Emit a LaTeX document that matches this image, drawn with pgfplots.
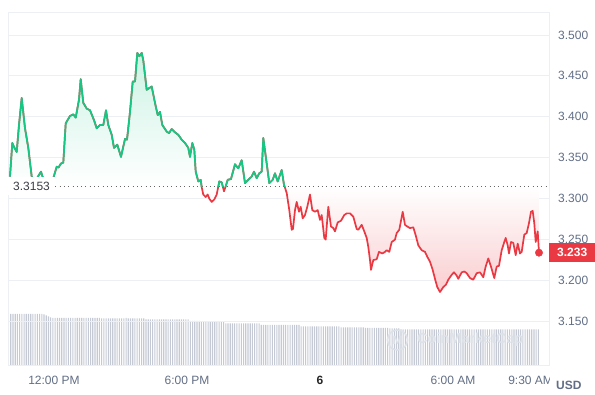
\documentclass[border=0pt]{standalone}
\usepackage{pgfplots}
\pgfplotsset{compat=1.18}
\usepackage{pgfplotstable}
\usepackage{fontspec}
\setmainfont{Liberation Sans}
\definecolor{cmcgreen}{RGB}{22,199,132}
\definecolor{cmcred}{RGB}{234,57,67}
\definecolor{gridc}{RGB}{236,239,243}
\definecolor{tickc}{RGB}{97,110,133}
\definecolor{labc}{RGB}{60,62,70}
\definecolor{barc}{RGB}{196,201,212}
\definecolor{wmc}{RGB}{222,226,233}
\colorlet{gfill}{cmcgreen!22!white}
\colorlet{rfill}{cmcred!25!white}
\pgfdeclareverticalshading{pricefade}{100bp}{color(0bp)=(rfill); color(25bp)=(rfill); color(47.1bp)=(white); color(75bp)=(gfill); color(100bp)=(gfill)}

\pgfplotstableread[row sep=\\]{
h v\\
-1.985 3.327\\ -1.881 3.368\\ -1.782 3.362\\ -1.682 3.357\\ -1.579 3.390\\ -1.457 3.423\\ -1.308 3.386\\ -1.159 3.362\\
-1.006 3.327\\ -0.902 3.320\\ -0.767 3.325\\ -0.586 3.333\\ -0.519 3.327\\ -0.406 3.320\\ -0.226 3.318\\ -0.032 3.325\\
0.122 3.339\\ 0.203 3.338\\ 0.316 3.343\\ 0.419 3.344\\ 0.528 3.392\\ 0.722 3.401\\ 0.871 3.403\\ 0.979 3.399\\
1.128 3.421\\ 1.204 3.446\\ 1.322 3.417\\ 1.475 3.410\\ 1.624 3.408\\ 1.804 3.396\\ 1.926 3.386\\ 2.075 3.390\\
2.224 3.390\\ 2.346 3.408\\ 2.449 3.390\\ 2.603 3.378\\ 2.706 3.362\\ 2.855 3.366\\ 3.022 3.351\\ 3.203 3.373\\
3.293 3.372\\ 3.428 3.406\\ 3.550 3.443\\ 3.654 3.443\\ 3.757 3.478\\ 3.848 3.474\\ 3.956 3.478\\ 4.028 3.469\\
4.181 3.433\\ 4.407 3.437\\ 4.556 3.417\\ 4.678 3.402\\ 4.781 3.406\\ 4.885 3.390\\ 5.083 3.382\\ 5.187 3.380\\
5.309 3.385\\ 5.458 3.381\\ 5.607 3.378\\ 5.760 3.372\\ 5.909 3.368\\ 6.058 3.362\\ 6.134 3.351\\ 6.238 3.368\\
6.328 3.360\\ 6.392 3.333\\ 6.509 3.321\\ 6.617 3.323\\ 6.662 3.314\\ 6.734 3.305\\ 6.843 3.302\\ 6.933 3.305\\
7.005 3.300\\ 7.113 3.296\\ 7.230 3.299\\ 7.339 3.305\\ 7.456 3.321\\ 7.564 3.320\\ 7.668 3.309\\ 7.745 3.315\\
7.835 3.323\\ 7.984 3.324\\ 8.164 3.342\\ 8.313 3.337\\ 8.466 3.347\\ 8.615 3.319\\ 8.764 3.323\\ 8.917 3.327\\
9.021 3.333\\ 9.143 3.325\\ 9.260 3.331\\ 9.368 3.333\\ 9.441 3.374\\ 9.594 3.343\\ 9.711 3.319\\ 9.865 3.323\\
9.968 3.331\\ 10.090 3.321\\ 10.271 3.335\\ 10.374 3.317\\ 10.496 3.307\\ 10.613 3.286\\ 10.722 3.262\\ 10.780 3.263\\
10.871 3.286\\ 10.947 3.296\\ 11.051 3.284\\ 11.128 3.290\\ 11.218 3.276\\ 11.322 3.280\\ 11.425 3.290\\ 11.547 3.305\\
11.651 3.286\\ 11.773 3.284\\ 11.894 3.286\\ 11.998 3.274\\ 12.075 3.280\\ 12.192 3.252\\ 12.255 3.250\\ 12.373 3.290\\
12.494 3.266\\ 12.598 3.264\\ 12.675 3.260\\ 12.797 3.271\\ 12.945 3.273\\ 13.094 3.280\\ 13.203 3.282\\ 13.351 3.282\\
13.500 3.278\\ 13.654 3.263\\ 13.726 3.262\\ 13.879 3.268\\ 13.996 3.260\\ 14.105 3.252\\ 14.177 3.241\\ 14.253 3.225\\
14.299 3.213\\ 14.402 3.225\\ 14.556 3.226\\ 14.659 3.235\\ 14.808 3.233\\ 14.930 3.235\\ 15.007 3.237\\ 15.124 3.235\\
15.232 3.247\\ 15.381 3.250\\ 15.458 3.258\\ 15.575 3.262\\ 15.729 3.284\\ 15.832 3.268\\ 15.936 3.266\\ 16.058 3.264\\
16.207 3.265\\ 16.328 3.254\\ 16.432 3.243\\ 16.586 3.237\\ 16.734 3.235\\ 16.838 3.229\\ 16.960 3.223\\ 17.082 3.213\\
17.185 3.202\\ 17.289 3.192\\ 17.411 3.186\\ 17.560 3.192\\ 17.682 3.195\\ 17.785 3.201\\ 17.939 3.207\\ 18.042 3.210\\
18.164 3.206\\ 18.236 3.202\\ 18.390 3.210\\ 18.507 3.211\\ 18.615 3.209\\ 18.764 3.203\\ 18.913 3.201\\ 19.066 3.209\\
19.215 3.210\\ 19.364 3.204\\ 19.472 3.217\\ 19.590 3.227\\ 19.711 3.217\\ 19.860 3.203\\ 19.968 3.217\\ 20.072 3.218\\
20.194 3.237\\ 20.311 3.247\\ 20.374 3.252\\ 20.465 3.243\\ 20.523 3.233\\ 20.613 3.247\\ 20.717 3.246\\ 20.826 3.231\\
20.916 3.245\\ 21.019 3.233\\ 21.096 3.235\\ 21.213 3.256\\ 21.322 3.258\\ 21.425 3.270\\ 21.516 3.284\\ 21.592 3.285\\
21.664 3.270\\ 21.728 3.247\\ 21.818 3.260\\ 21.876 3.234\\
}\pricedata

\pgfplotstableread[row sep=\\]{
h vol\\
-1.95 51\\ -1.85 51\\ -1.75 51\\ -1.65 51\\ -1.55 51\\ -1.45 51\\ -1.35 51\\ -1.25 51\\ -1.15 51\\ -1.05 51\\
-0.95 51\\ -0.85 51\\ -0.75 51\\ -0.65 51\\ -0.55 51\\ -0.45 50.5\\ -0.35 49.5\\ -0.25 48.5\\ -0.15 47.5\\
-0.05 47\\ 0.05 47\\ 0.15 47\\ 0.25 47\\ 0.35 47\\ 0.45 47\\ 0.55 47\\ 0.65 47\\ 0.75 47\\ 0.85 47\\ 0.95 47\\
1.05 47\\ 1.15 47\\ 1.25 47\\ 1.35 47\\ 1.45 47\\ 1.55 47\\ 1.65 47\\ 1.75 47\\ 1.85 47\\ 1.95 47\\ 2.05 47\\
2.15 46.5\\ 2.25 46.5\\ 2.35 46.5\\ 2.45 46.5\\ 2.55 46.5\\ 2.65 46.5\\ 2.75 46.5\\ 2.85 46.5\\ 2.95 46.5\\ 3.05 46.5\\ 3.15 46.5\\
3.25 47\\ 3.35 46.5\\ 3.45 46.5\\ 3.55 46.5\\ 3.65 46.5\\ 3.75 46.5\\ 3.85 46.5\\ 3.95 46.5\\ 4.05 46.5\\
4.15 45.5\\ 4.25 45.5\\ 4.35 45.5\\ 4.45 45.5\\ 4.55 45.5\\ 4.65 45.5\\ 4.75 45.5\\ 4.85 45.5\\ 4.95 45.5\\ 5.05 45.5\\
5.15 45.5\\ 5.25 45.5\\ 5.35 45.5\\ 5.45 45.5\\ 5.55 45.5\\ 5.65 45.5\\ 5.75 45.5\\ 5.85 45.5\\ 5.95 45.5\\ 6.05 45.5\\
6.15 44\\ 6.25 44\\ 6.35 44\\ 6.45 44\\ 6.55 44\\
6.65 43\\ 6.75 43\\ 6.85 43\\ 6.95 43\\ 7.05 43\\ 7.15 43\\ 7.25 43\\ 7.35 43\\ 7.45 43\\ 7.55 43\\ 7.65 43\\
7.75 41.5\\ 7.85 41.5\\ 7.95 41.5\\ 8.05 41.5\\ 8.15 41.5\\ 8.25 41.5\\ 8.35 41.5\\ 8.45 41.5\\ 8.55 41.5\\ 8.65 41.5\\
8.75 41.5\\ 8.85 41.5\\ 8.95 41.5\\ 9.05 41.5\\ 9.15 41.5\\ 9.25 41.5\\
9.35 40\\ 9.45 40\\ 9.55 40\\ 9.65 40\\ 9.75 40\\ 9.85 40\\ 9.95 40\\ 10.05 40\\ 10.15 40\\ 10.25 40\\
10.35 40\\ 10.45 40\\ 10.55 40\\ 10.65 40\\ 10.75 40\\ 10.85 40\\ 10.95 40\\ 11.05 40\\
11.15 38.5\\ 11.25 38.5\\ 11.35 38.5\\ 11.45 38.5\\ 11.55 38.5\\ 11.65 38.5\\ 11.75 38.5\\ 11.85 38.5\\ 11.95 38.5\\ 12.05 38.5\\
12.15 38.5\\ 12.25 38.5\\ 12.35 38.5\\ 12.45 38.5\\ 12.55 38.5\\ 12.65 38.5\\ 12.75 38.5\\ 12.85 38.5\\
12.95 37.5\\ 13.05 37.5\\ 13.15 37.5\\ 13.25 37.5\\ 13.35 37.5\\ 13.45 37.5\\ 13.55 37.5\\ 13.65 37.5\\ 13.75 37.5\\ 13.85 37.5\\ 13.95 37.5\\
14.05 37\\ 14.15 37\\ 14.25 37\\ 14.35 37\\ 14.45 37\\ 14.55 37\\ 14.65 37\\ 14.75 37\\ 14.85 37\\ 14.95 37\\ 15.05 37\\
15.15 36.5\\ 15.25 36.5\\ 15.35 36.5\\ 15.45 36.5\\ 15.55 36.5\\
15.65 35.5\\ 15.75 35.5\\ 15.85 35.5\\ 15.95 35.5\\ 16.05 35.5\\ 16.15 35.5\\ 16.25 35.5\\ 16.35 35.5\\ 16.45 35.5\\ 16.55 35.5\\
16.65 35.5\\ 16.75 35.5\\ 16.85 35.5\\ 16.95 35.5\\ 17.05 35.5\\ 17.15 35.5\\ 17.25 35.5\\ 17.35 35.5\\ 17.45 35.5\\ 17.55 35.5\\
17.65 35.5\\ 17.75 35.5\\ 17.85 35.5\\ 17.95 35.5\\ 18.05 35.5\\ 18.15 35.5\\ 18.25 35.5\\ 18.35 35.5\\ 18.45 35.5\\ 18.55 35.5\\
18.65 35.5\\ 18.75 35.5\\ 18.85 35.5\\ 18.95 35.5\\ 19.05 35.5\\ 19.15 35.5\\ 19.25 35.5\\ 19.35 35.5\\ 19.45 35.5\\ 19.55 35.5\\
19.65 35.5\\ 19.75 35.5\\ 19.85 35.5\\ 19.95 35.5\\ 20.05 35.5\\ 20.15 35.5\\ 20.25 35.5\\ 20.35 35.5\\ 20.45 35.5\\ 20.55 35.5\\
20.65 35.5\\ 20.75 35.5\\ 20.85 35.5\\ 20.95 35.5\\ 21.05 35.5\\ 21.15 35.5\\ 21.25 35.5\\ 21.35 35.5\\ 21.45 35.5\\ 21.55 35.5\\
21.65 35.5\\ 21.75 35.5\\ 21.85 35.5\\
}\voldata

\begin{document}
\begin{tikzpicture}
\path[use as bounding box] (0pt,0pt) rectangle (595pt,394pt);
% volume bars
\begin{axis}[at={(8pt,29pt)},anchor=south west,width=541pt,height=353pt,scale only axis,
  xmin=-2.075,xmax=22.328,ymin=0,ymax=353,axis lines=none,ticks=none]
\addplot[ybar,bar width=1.1pt,fill=barc,draw=none] table[x=h,y=vol]{\voldata};
\end{axis}
% watermark
\draw[wmc,line width=1.6pt] (397.5pt,54pt) circle (10pt);
\node[text=wmc,font=\bfseries\fontsize{12}{14}\selectfont] at (397.5pt,54pt) {M};
\node[anchor=west,inner sep=0pt,text=wmc,font=\bfseries\fontsize{14.5}{16}\selectfont] at (417pt,54pt) {CoinMarketCap};
% price axis
\begin{axis}[at={(8pt,29pt)},anchor=south west,width=541pt,height=353pt,scale only axis,
  xmin=-2.075,xmax=22.328,ymin=3.0968,ymax=3.528,
  axis line style={draw=gridc,line width=0.8pt},
  ymajorgrids, grid style={draw=gridc,line width=0.8pt},
  major tick length=0pt,
  ytick={3.15,3.2,3.25,3.3,3.35,3.4,3.45,3.5},
  yticklabel pos=right,
  yticklabel style={anchor=west,inner sep=0pt,xshift=9pt,font=\fontsize{12}{14}\selectfont,text=tickc,
    /pgf/number format/.cd,fixed,fixed zerofill,precision=3,assume math mode=true},
  xtick={0,6,12,18,21.5},
  xticklabels={12:00 PM,6:00 PM,{\color{black!85}\textbf{6}},6:00 AM,9:30 AM},
  xticklabel style={anchor=base,yshift=-19pt,font=\fontsize{12}{14}\selectfont,text=tickc}]
\addplot[shading=pricefade,draw=none] table[x=h,y=v]{\pricedata} -- (axis cs:21.876,3.3153) -- (axis cs:-1.985,3.3153) -- cycle;
\addplot[black!60,line width=0.9pt,dash pattern=on 0.9pt off 3.4pt] coordinates {(-2.075,3.3153) (22.328,3.3153)};
\addplot[cmcred,line width=1.7pt,line join=round] table[x=h,y=v]{\pricedata};
\addplot[only marks,mark=*,mark size=3.7pt,color=cmcred,mark options={fill=cmcred}] coordinates {(21.876,3.234)};
\coordinate (basel) at (axis cs:-2.075,3.3153);
\coordinate (tagp) at (axis cs:22.328,3.234);
\end{axis}
% green part of the line: axis whose bottom is the 3.3153 baseline
\begin{axis}[at={(8pt,207.87pt)},anchor=south west,width=541pt,height=174.13pt,scale only axis,
  xmin=-2.075,xmax=22.328,ymin=3.3153,ymax=3.528,axis lines=none,ticks=none]
\addplot[cmcgreen,line width=1.7pt,line join=round] table[x=h,y=v]{\pricedata};
\end{axis}
\node[fill=white,anchor=west,inner xsep=5pt,inner ysep=4.5pt,text=labc,font=\fontsize{12}{14}\selectfont] at (basel) {3.3153};
\node[fill=cmcred,text=white,anchor=west,minimum width=46pt,minimum height=19pt,inner sep=0pt,font=\bfseries\fontsize{12}{14}\selectfont] at (tagp) {3.233};
\fill[white] (549.6pt,0pt) rectangle (595pt,27pt);
\node[anchor=base west,inner sep=0pt,text=tickc,font=\bfseries\fontsize{12}{14}\selectfont] at (556pt,5pt) {USD};
\end{tikzpicture}
\end{document}
